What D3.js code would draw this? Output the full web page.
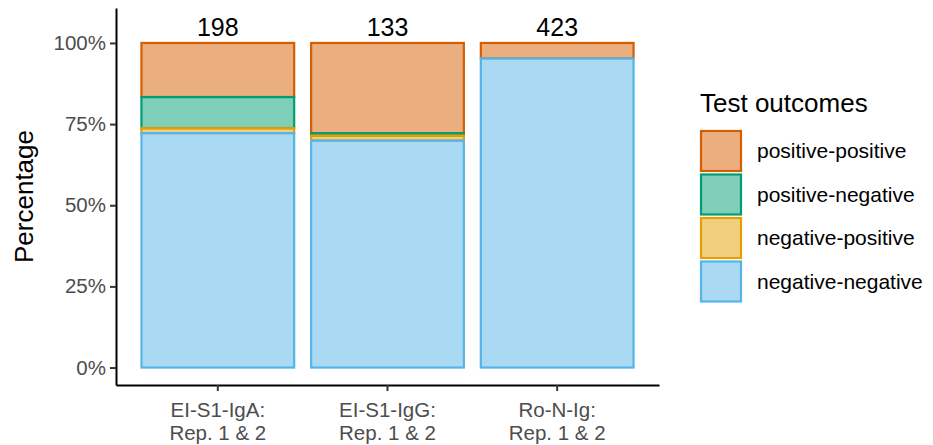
<!DOCTYPE html>
<html>
<head>
<meta charset="utf-8">
<script src="https://cdn.jsdelivr.net/npm/d3@7"></script>
<style>
  html, body { margin: 0; padding: 0; background: #fff; }
  svg { display: block; font-family: "Liberation Sans", Arial, Helvetica, sans-serif; }
</style>
</head>
<body>
<svg id="chart" width="933" height="445"></svg>
<script>
// ---- data ----
const categories = ["EI-S1-IgA:\nRep. 1 & 2", "EI-S1-IgG:\nRep. 1 & 2", "Ro-N-Ig:\nRep. 1 & 2"];
const totals = [198, 133, 423];
const outcomes = ["negative-negative", "negative-positive", "positive-negative", "positive-positive"];
const negNeg = [143, 93, 403];
const negPos = [3, 2, 0];
const posNeg = [19, 1, 0];
const posPos = [33, 37, 20];
const yTicks = [0, 0.25, 0.5, 0.75, 1];
const yTickLabels = ["0%", "25%", "50%", "75%", "100%"];
const legendOrder = ["positive-positive", "positive-negative", "negative-positive", "negative-negative"];

const strokeColors = {
  "positive-positive": "#D55E00",
  "positive-negative": "#009E73",
  "negative-positive": "#E69F00",
  "negative-negative": "#56B4E9"
};

// ---- build table ----
const seriesValues = { "negative-negative": negNeg, "negative-positive": negPos, "positive-negative": posNeg, "positive-positive": posPos };
const table = categories.map((c, i) => {
  const row = { cat: c };
  outcomes.forEach(o => row[o] = seriesValues[o][i] / totals[i]);
  return row;
});
const stacked = d3.stack().keys(outcomes)(table);

// ---- layout ----
const svg = d3.select("#chart");
const panel = { left: 116, right: 659, top: 8, bottom: 385 };

const x = d3.scaleBand().domain(categories)
  .range([panel.left, panel.right]).paddingInner(0.1).paddingOuter(0.15);
const y = d3.scaleLinear().domain([-0.0538, 1.1077]).range([panel.bottom, panel.top]);

// bars (drawn top layer first so lower layers' borders sit on top, like ggplot)
const g = svg.append("g");
legendOrder.forEach(key => {
  const layer = stacked.find(s => s.key === key);
  g.selectAll(null).data(layer.filter(d => d[1] - d[0] > 0)).enter().append("rect")
    .attr("x", d => x(d.data.cat))
    .attr("width", x.bandwidth())
    .attr("y", d => y(d[1]))
    .attr("height", d => Math.max(0, y(d[0]) - y(d[1])))
    .attr("fill", strokeColors[key]).attr("fill-opacity", 0.5)
    .attr("stroke", strokeColors[key]).attr("stroke-width", 2.2);
});

// count labels
svg.selectAll(null).data(categories).enter().append("text")
  .attr("x", d => x(d) + x.bandwidth() / 2)
  .attr("y", y(1) - 7)
  .attr("text-anchor", "middle")
  .attr("font-size", 25).attr("fill", "#000")
  .text((d, i) => totals[i]);

// y axis
const yAxis = d3.axisLeft(y).tickValues(yTicks)
  .tickFormat((d, i) => yTickLabels[i]).tickSize(6).tickSizeOuter(0).tickPadding(4);
const yg = svg.append("g").attr("transform", `translate(${panel.left},0)`).call(yAxis);
yg.select(".domain").attr("stroke", "#000").attr("stroke-width", 2);
yg.selectAll(".tick line").attr("stroke", "#333").attr("stroke-width", 2);
yg.selectAll(".tick text").attr("font-size", 20.5).attr("fill", "#4D4D4D")
  .attr("font-family", "Liberation Sans, Arial, sans-serif");

// x axis
const xAxis = d3.axisBottom(x).tickSize(6).tickSizeOuter(0).tickFormat("");
const xg = svg.append("g").attr("transform", `translate(0,${panel.bottom})`).call(xAxis);
xg.select(".domain").attr("stroke", "#000").attr("stroke-width", 2);
xg.selectAll(".tick line").attr("stroke", "#333").attr("stroke-width", 2);
xg.selectAll(".tick").each(function(d) {
  const lines = d.split("\n");
  const t = d3.select(this).append("text")
    .attr("text-anchor", "middle").attr("font-size", 20.5).attr("fill", "#4D4D4D");
  lines.forEach((ln, k) => t.append("tspan").attr("x", 0).attr("y", 32 + k * 23).text(ln));
});

// y title
svg.append("text")
  .attr("transform", `translate(33,${(panel.top + panel.bottom) / 2}) rotate(-90)`)
  .attr("text-anchor", "middle").attr("font-size", 26).attr("fill", "#000")
  .text("Percentage");

// legend
const lg = svg.append("g").attr("transform", "translate(700,0)");
lg.append("text").attr("x", 0).attr("y", 112).attr("font-size", 26).attr("fill", "#000").text("Test outcomes");
legendOrder.forEach((k, i) => {
  const yy = 130 + i * 43.5;
  lg.append("rect").attr("x", 1).attr("y", yy + 1).attr("width", 40).attr("height", 40)
    .attr("fill", strokeColors[k]).attr("fill-opacity", 0.5)
    .attr("stroke", strokeColors[k]).attr("stroke-width", 2.2);
  lg.append("text").attr("x", 57).attr("y", yy + 21).attr("dy", "0.35em")
    .attr("font-size", 21).attr("fill", "#000").text(k);
});
</script>
</body>
</html>
